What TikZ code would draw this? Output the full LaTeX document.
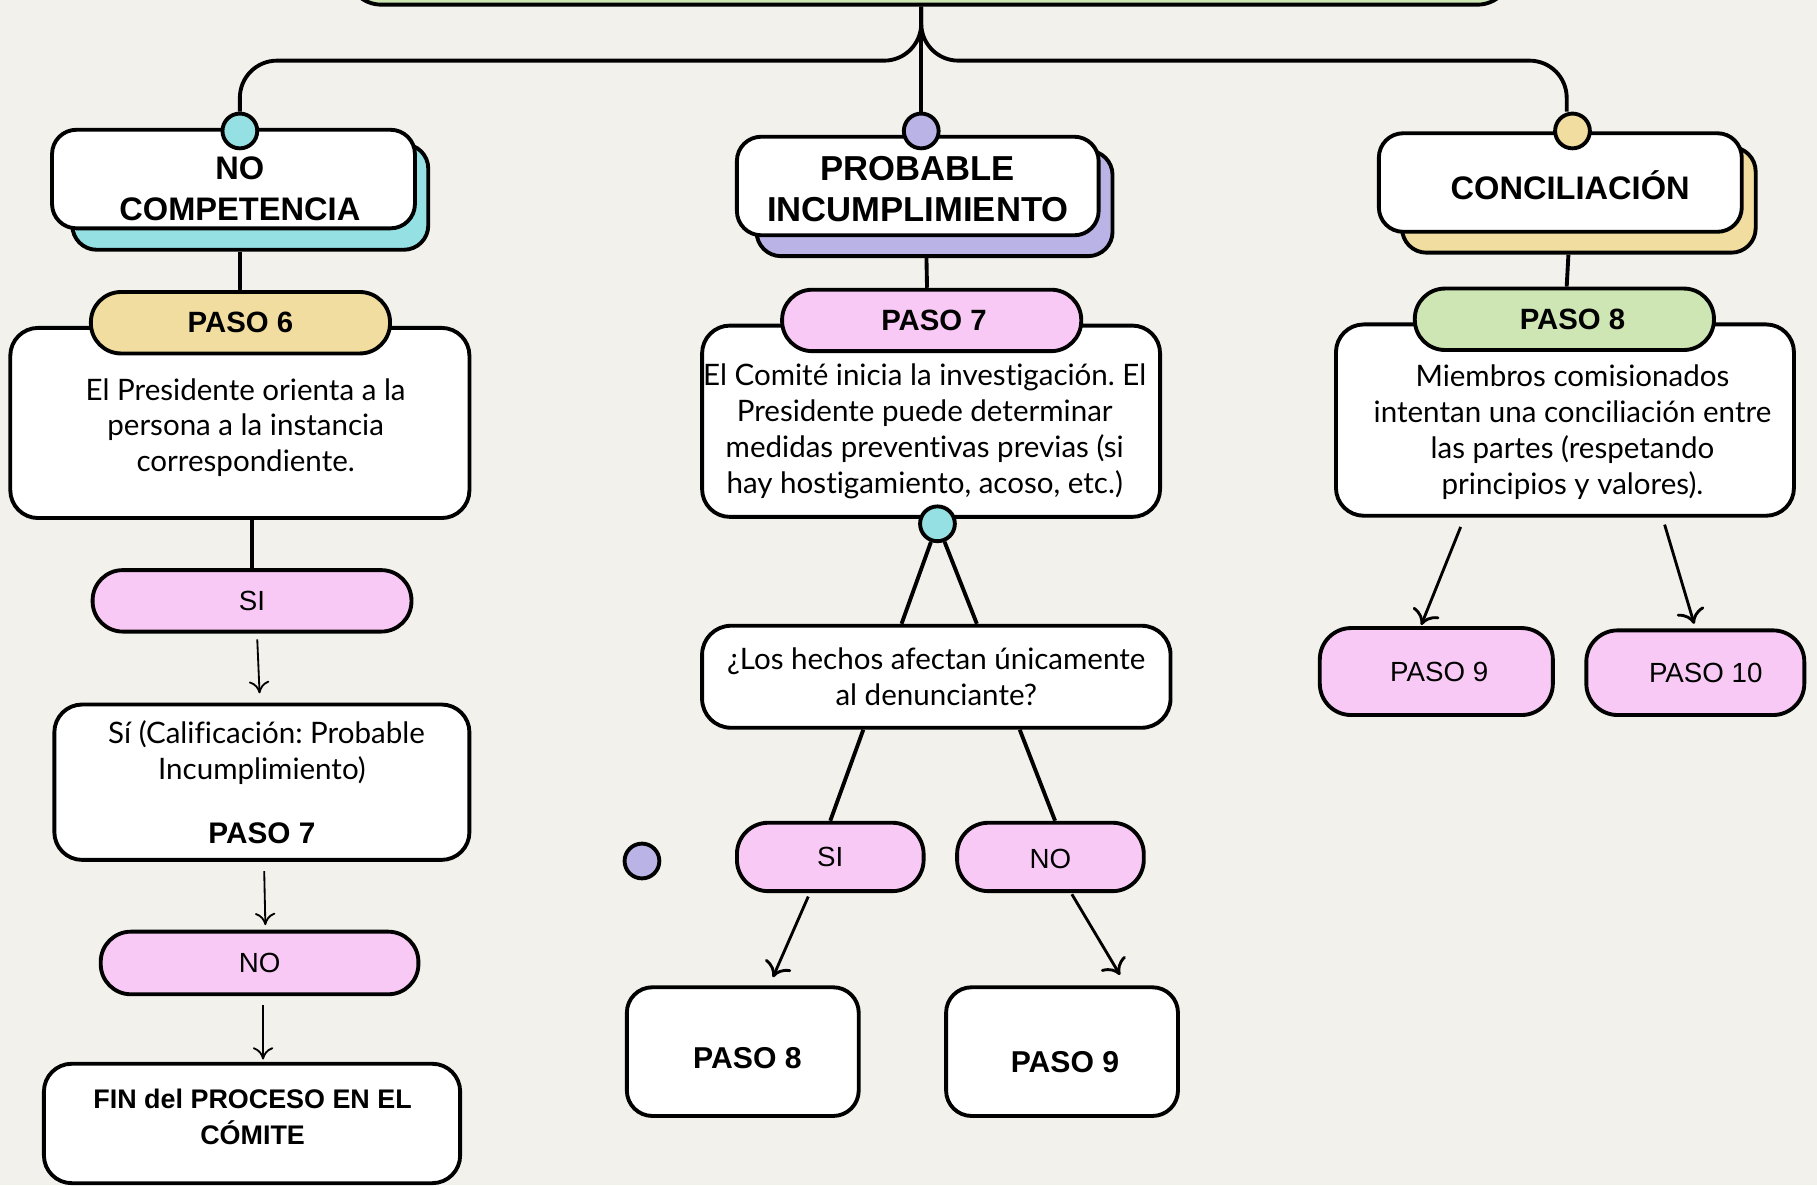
\documentclass[tikz,border=0pt]{standalone}
\usepackage{fontspec}
\usepackage{tikz}
\usepackage{xcolor}
\usetikzlibrary{arrows.meta,calc}
\newfontfamily\headfont{Liberation Sans}
\newfontfamily\bodyfont[Ligatures=NoCommon]{Lato}
\frenchspacing
\definecolor{paper}{HTML}{F2F1EC}
\definecolor{dotcyan}{HTML}{94E0E3}
\definecolor{dotpurple}{HTML}{B9B3E6}
\definecolor{dotyellow}{HTML}{F1DD9F}
\definecolor{stepgreen}{HTML}{CDE6B4}
\definecolor{steppink}{HTML}{F9C9F6}
\tikzset{
    title-box/.style = {draw=black, fill=white, line width=0.95pt, rectangle, rounded corners=0.21cm, minimum width=3.13cm, minimum height=0.85cm, inner sep=0pt},
    title-text/.style = {inner sep=0pt, align=center, font=\headfont\bfseries\fontsize{8}{10}\selectfont},
    title-shadow/.style = {draw=black, line width=0.95pt, rectangle, rounded corners=0.21cm, minimum width=3.07cm, minimum height=0.91cm, inner sep=0pt},
    join-dot/.style = {draw=black, line width=0.95pt, circle, minimum size=0.3cm, inner sep=0pt},
    step-pill/.style = {draw=black, line width=0.95pt, rectangle, rounded corners=0.26cm, minimum width=2.58cm, minimum height=0.53cm, inner sep=0pt, font=\headfont\bfseries\fontsize{7.2}{8.6}\selectfont},
    text-box/.style = {draw=black, fill=white, line width=0.95pt, rectangle, rounded corners=0.24cm, minimum width=3.95cm, minimum height=1.65cm, inner sep=0pt, align=center, font=\bodyfont\fontsize{7.25}{8.8}\selectfont},
    body-text/.style = {inner sep=0pt, align=center, font=\bodyfont\fontsize{7.25}{8.8}\selectfont},
    choice-pill/.style = {draw=black, fill=steppink, line width=0.95pt, rectangle, rounded corners=0.26cm, inner sep=0pt, font=\headfont\fontsize{6.8}{8}\selectfont},
    end-box/.style = {draw=black, fill=white, line width=0.95pt, rectangle, rounded corners=0.22cm, minimum width=2cm, minimum height=1.11cm, inner sep=0pt, text depth=0pt, font=\headfont\bfseries\fontsize{7.4}{8.8}\selectfont},
    link/.style = {draw=black, line width=0.95pt},
    thin-arrow/.style = {draw=black, line width=0.45pt, -{Computer Modern Rightarrow[length=3pt,width=5pt]}},
    mid-arrow/.style = {draw=black, line width=0.7pt, -{Computer Modern Rightarrow[length=3.5pt,width=7pt]}},
}

\begin{document}
\begin{tikzpicture}[x=0.01cm, y=-0.01cm]
\path[use as bounding box, fill=paper] (0,0) rectangle (1568,1023);
\clip (0,0) rectangle (1568,1023);

\node[draw=black, fill=stepgreen, line width=0.95pt, rounded corners=0.3cm, minimum width=10.05cm, minimum height=0.9cm] (top-box) at (802,-41) {};

\node[title-shadow, fill=dotcyan] (nc-shadow) at (216,170) {};
\node[title-box] (nc-title) at (201.5,154.5) {};
\node[title-text] (nc-label) at (207,163) {NO\\COMPETENCIA};
\node[join-dot, fill=dotcyan] (nc-dot) at (207,113) {};
\node[text-box, minimum width=3.96cm, minimum height=1.64cm] (p6-box) at (207,365) {};
\node[body-text] (p6-text) at (212,369) {El Presidente orienta a la\\persona a la instancia\\correspondiente.};
\node[step-pill, fill=dotyellow] (p6-pill) at (207.5,278.5) {PASO 6};
\node[choice-pill, minimum width=2.75cm, minimum height=0.53cm] (l-si) at (217.5,518.5) {SI};
\node[text-box, minimum width=3.58cm, minimum height=1.34cm] (l-calif) at (226,675) {\hspace*{0.08cm}Sí (Calificación: Probable\\Incumplimiento)\\[6.8pt]{\headfont\bfseries\fontsize{7.3}{8.8}\selectfont PASO 7}};
\node[choice-pill, minimum width=2.74cm, minimum height=0.54cm] (l-no) at (224,831) {NO};
\node[text-box, minimum width=3.59cm, minimum height=1.03cm] (l-fin) at (217.5,969.5) {};
\node[title-text, font=\headfont\bfseries\fontsize{6.6}{8.8}\selectfont] (l-fin-text) at (218,964) {FIN del PROCESO EN EL\\CÓMITE};

\node[title-shadow, fill=dotpurple] (pi-shadow) at (806.5,175.5) {};
\node[title-box, minimum width=3.12cm] (pi-title) at (792,160.5) {};
\node[title-text, font=\headfont\bfseries\fontsize{8.5}{10}\selectfont] (pi-label) at (792,163) {PROBABLE\\INCUMPLIMIENTO};
\node[join-dot, fill=dotpurple] (pi-dot) at (795,113) {};
\node[text-box] (p7-box) at (803.5,363.5) {};
\node[body-text] (p7-text) at (798,372) {El Comité inicia la investigación. El\\Presidente puede determinar\\medidas preventivas previas (si\\hay hostigamiento, acoso, etc.)};
\node[step-pill, fill=steppink] (p7-pill) at (804,276.5) {\hspace*{0.04cm}PASO 7};
\node[join-dot, fill=dotcyan] (q-dot) at (809,452) {};
\node[text-box, minimum width=4.04cm, minimum height=0.88cm, rounded corners=0.25cm] (q-box) at (808,584) {¿Los hechos afectan únicamente\\al denunciante?};
\node[choice-pill, minimum width=1.61cm, minimum height=0.59cm, rounded corners=0.27cm] (m-si) at (716.5,739.5) {SI};
\node[choice-pill, minimum width=1.61cm, minimum height=0.59cm, rounded corners=0.27cm, text height=5.6pt, text depth=0pt] (m-no) at (906.5,739.5) {NO};
\node[join-dot, fill=dotpurple] (lone-dot) at (554,743) {};
\node[end-box, text height=8.4pt] (p8-box) at (641,907.5) {\hspace*{0.08cm}PASO 8};
\node[end-box, text height=10.1pt] (p9-box) at (916.5,907.5) {\hspace*{0.05cm}PASO 9};

\node[title-shadow, fill=dotyellow, minimum width=3.05cm] (co-shadow) at (1362.5,172.5) {};
\node[title-box] (co-title) at (1346.5,157.5) {};
\node[title-text] (co-label) at (1355,160) {CONCILIACIÓN};
\node[join-dot, fill=dotyellow] (co-dot) at (1357,113) {};
\node[text-box] (p8-textbox) at (1350.5,362.5) {};
\node[body-text] (p8-text) at (1357,373) {Miembros comisionados\\intentan una conciliación entre\\las partes (respetando\\principios y valores).};
\node[step-pill, fill=stepgreen] (p8-pill) at (1350,275.5) {\hspace*{0.14cm}PASO 8};
\node[choice-pill, minimum width=2.01cm, minimum height=0.75cm, rounded corners=0.27cm] (r-p9) at (1239.5,579.5) {\hspace*{0.05cm}PASO 9};
\node[choice-pill, minimum width=1.88cm, minimum height=0.73cm, rounded corners=0.27cm] (r-p10) at (1463,580.5) {\hspace*{0.18cm}PASO 10};

\draw[link] (top-box.south -| pi-dot) -- (pi-dot.north);
\draw[link, rounded corners=0.32cm] (top-box.south -| pi-dot) |- ($(nc-dot.north)+(0,-44)$) -- (nc-dot.north);
\draw[link, rounded corners=0.32cm] (top-box.south -| pi-dot) |- ($(co-dot.north)+(-5,-44)$) -- ($(co-dot.north)+(-5,0)$);

\draw[link] (nc-dot |- nc-shadow.south) -- (nc-dot |- p6-pill.north);
\draw[link] (l-si.north |- p6-box.south) -- (l-si.north);
\draw[thin-arrow] ($(l-si.south)+(4.5,5)$) -- ($(l-calif.north)+(-2,-8)$);
\draw[thin-arrow] ($(l-calif.south)+(2,8)$) -- ($(l-no.north)+(5,-4)$);
\draw[thin-arrow] ($(l-no.south)+(3,8)$) -- ($(l-fin.north)+(9.5,-2)$);

\draw[link] ($(pi-shadow.south)+(-7,0)$) -- ($(p7-pill.north)+(-4,0)$);
\draw[link] (q-dot) -- ($(q-box.north)+(-30,0)$);
\draw[link] (q-dot) -- ($(q-box.north)+(35,0)$);
\draw[link] ($(q-box.south)+(-63,0)$) -- (m-si.north);
\draw[link] ($(q-box.south)+(72,0)$) -- ($(m-no.north)+(4,0)$);
\draw[mid-arrow] ($(m-si.south)+(-19,3)$) -- ($(p8-box.north)+(26,-7)$);
\draw[mid-arrow] ($(m-no.south)+(18.5,1)$) -- ($(p9-box.north)+(50,-9)$);

\draw[link] ($(co-shadow.south)+(-9,0)$) -- ($(p8-pill.north)+(2,0)$);
\draw[mid-arrow] ($(p8-textbox.south)+(-90,8)$) -- ($(r-p9.north)+(-13,-1)$);
\draw[mid-arrow] ($(p8-textbox.south)+(86,6)$) -- ($(r-p10.north)+(-1,-4)$);
\end{tikzpicture}
\end{document}
